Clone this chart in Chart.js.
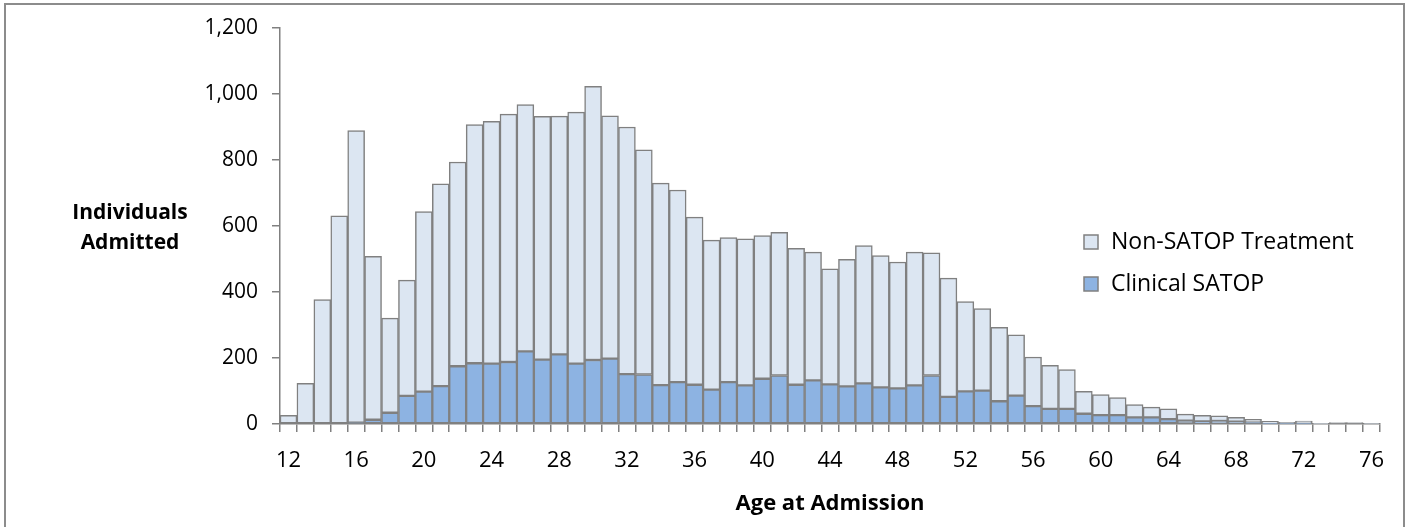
<!DOCTYPE html>
<html>
<head>
<meta charset="utf-8">
<script src="https://cdn.jsdelivr.net/npm/chart.js@4.4.1/dist/chart.umd.min.js"></script>
<style>
  html, body { margin: 0; padding: 0; background: #fff; overflow: hidden; }
  #wrap { position: relative; width: 1410px; height: 527px; }
  #frame { position: absolute; left: 4px; top: 3px; width: 1401px; height: 600px; border: 2px solid #8c8c8c; box-sizing: border-box; }
  canvas { position: absolute; left: 0; top: 0; }
</style>
</head>
<body>
<div id="wrap">
  <div id="frame"></div>
  <canvas id="chart" width="1410" height="527"></canvas>
</div>
<script>
const ages = [12, 13, 14, 15, 16, 17, 18, 19, 20, 21, 22, 23, 24, 25, 26, 27, 28, 29, 30, 31, 32, 33,
    34, 35, 36, 37, 38, 39, 40, 41, 42, 43, 44, 45, 46, 47, 48, 49, 50, 51, 52, 53, 54, 55,
    56, 57, 58, 59, 60, 61, 62, 63, 64, 65, 66, 67, 68, 69, 70, 71, 72, 73, 74, 75, 76];

const clinicalSatop = [0, 0, 0, 0, 4, 13, 34, 85, 98, 115, 175, 184, 183, 188, 220, 195, 211, 183, 194, 198, 151, 150,
    118, 127, 119, 104, 127, 117, 137, 147, 119, 132, 120, 114, 123, 111, 108, 117, 147, 82, 99, 101, 69, 86,
    54, 46, 46, 31, 27, 27, 20, 20, 15, 10, 8, 9, 7, 5, 2, 1, 2, 0, 0, 0, 0];

const nonSatop = [26, 123, 377, 631, 885, 495, 287, 351, 546, 613, 619, 723, 734, 751, 748, 737, 722, 762, 829, 736, 749, 681,
    612, 582, 508, 453, 438, 444, 434, 434, 413, 389, 350, 385, 418, 399, 383, 404, 372, 360, 272, 249, 224, 184,
    149, 132, 119, 68, 62, 53, 39, 31, 31, 20, 18, 16, 13, 9, 6, 4, 7, 2, 4, 4, 1];

const xTickLabels = ['12', '16', '20', '24', '28', '32', '36', '40', '44', '48', '52', '56', '60', '64', '68', '72', '76'];
const yTicks = [0, 200, 400, 600, 800, 1000, 1200];

const gray = '#808080';

// y title + legend sit inside the plot like in the Excel original
const extras = {
    id: 'extras',
    afterDraw(chart) {
        const ctx = chart.ctx;
        ctx.save();
        ctx.fillStyle = '#000';
        ctx.font = 'bold 21px "Open Sans"';
        ctx.textAlign = 'center';
        ctx.textBaseline = 'middle';
        ctx.fillText('Individuals', 130, 213);
        ctx.fillText('Admitted', 130, 243);

        const items = [chart.data.datasets[1], chart.data.datasets[0]];
        ctx.textAlign = 'left';
        ctx.font = '23px "Open Sans"';
        items.forEach((ds, i) => {
            const y = 242 + i * 42;
            ctx.fillStyle = ds.backgroundColor;
            ctx.fillRect(1084, y - 7, 14, 14);
            ctx.strokeStyle = gray;
            ctx.lineWidth = 1.5;
            ctx.strokeRect(1084, y - 7, 14, 14);
            ctx.fillStyle = '#000';
            ctx.fillText(ds.label, 1111, y);
        });
        ctx.restore();
    }
};

const ctx = document.getElementById('chart').getContext('2d');
const chart = new Chart(ctx, {
    type: 'bar',
    data: {
        labels: ages,
        datasets: [
            { label: 'Clinical SATOP', data: clinicalSatop, backgroundColor: '#8db3e2' },
            { label: 'Non-SATOP Treatment', data: nonSatop, backgroundColor: '#dce6f2' }
        ]
    },
    options: {
        responsive: false,
        animation: false,
        layout: { padding: { left: 180, right: 30, top: 28, bottom: 0 } },
        datasets: {
            bar: {
                categoryPercentage: 1,
                barPercentage: 1,
                borderWidth: 1.5,
                borderColor: gray,
                borderSkipped: false
            }
        },
        plugins: {
            legend: { display: false },
            tooltip: { enabled: false }
        },
        scales: {
            x: {
                stacked: true,
                afterFit: s => { s.height = 103; },
                grid: { offset: true, drawOnChartArea: false, tickLength: 8, color: gray, lineWidth: 1.5 },
                border: { color: gray, width: 1.5 },
                ticks: {
                    autoSkip: false,
                    maxRotation: 0,
                    padding: 16,
                    color: '#000',
                    font: { family: 'Open Sans', size: 22 },
                    callback: function (v) {
                        const l = String(this.getLabelForValue(v));
                        return xTickLabels.includes(l) ? l : '';
                    }
                },
                title: {
                    display: true,
                    text: 'Age at Admission',
                    color: '#000',
                    font: { family: 'Open Sans', size: 22, weight: 'bold' },
                    padding: { top: 0, bottom: 10 }
                }
            },
            y: {
                stacked: true,
                min: 0,
                max: 1200,
                afterFit: s => { s.width = 100; },
                afterBuildTicks: s => { s.ticks = yTicks.map(v => ({ value: v })); },
                grid: { drawOnChartArea: false, tickLength: 8, color: gray, lineWidth: 1.5 },
                border: { color: gray, width: 1.5 },
                ticks: {
                    padding: 14,
                    color: '#000',
                    font: { family: 'Open Sans', size: 21 },
                    callback: v => v.toLocaleString('en-US')
                }
            }
        }
    },
    plugins: [extras]
});
</script>
</body>
</html>
